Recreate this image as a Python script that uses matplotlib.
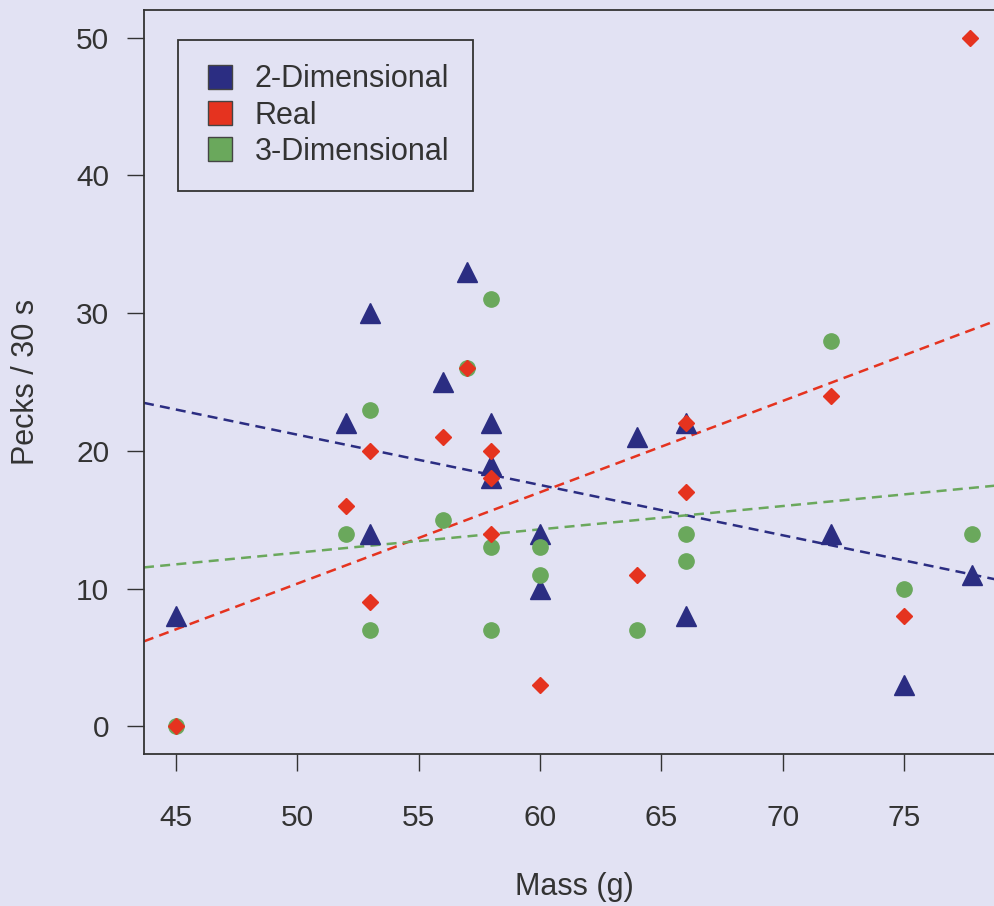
import numpy as np
import matplotlib
matplotlib.use("Agg")
import matplotlib.pyplot as plt
from matplotlib.lines import Line2D

plt.rcParams['font.family'] = ['Liberation Sans', 'DejaVu Sans']

# data
mass_2d = [45, 52, 53, 53, 56, 57, 58, 58, 58, 60, 60, 64, 66, 66, 72, 75, 77.8]
pecks_2d = [8, 22, 30, 14, 25, 33, 22, 19, 18, 14, 10, 21, 22, 8, 14, 3, 11]

mass_real = [45, 52, 53, 53, 56, 57, 58, 58, 58, 60, 64, 66, 66, 72, 75, 77.7]
pecks_real = [0, 16, 20, 9, 21, 26, 20, 18, 14, 3, 11, 22, 17, 24, 8, 50]

mass_3d = [45, 52, 53, 53, 56, 57, 58, 58, 58, 60, 60, 64, 66, 66, 72, 75, 77.8]
pecks_3d = [0, 14, 23, 7, 15, 26, 31, 13, 7, 13, 11, 7, 14, 12, 28, 10, 14]

labels = ["2-Dimensional", "Real", "3-Dimensional"]
col_2d = "#2b2d82"
col_real = "#e5331f"
col_3d = "#6aa85c"
bg = "#e2e2f3"
ink = "#333333"

fig = plt.figure(figsize=(9.94, 9.06), dpi=100, facecolor=bg)
ax = fig.add_axes([144 / 994, 152 / 906, 860 / 994, 744 / 906])
ax.set_facecolor(bg)

ax.set_xlim(43.69, 79.11)
ax.set_ylim(-2, 52)

# regression lines
xs = np.array(ax.get_xlim())
for m, p, c in [(mass_2d, pecks_2d, col_2d), (mass_real, pecks_real, col_real),
                (mass_3d, pecks_3d, col_3d)]:
    k, b = np.polyfit(m, p, 1)
    ax.plot(xs, k * xs + b, color=c, lw=1.8, ls=(0, (4, 2.5)), zorder=2)

ax.plot(mass_2d, pecks_2d, ls="none", marker="^", ms=14, color=col_2d, zorder=3)
ax.plot(mass_3d, pecks_3d, ls="none", marker="o", ms=11, color=col_3d, zorder=4)
ax.plot(mass_real, pecks_real, ls="none", marker="D", ms=8, color=col_real, zorder=5)

ax.set_xticks([45, 50, 55, 60, 65, 70, 75])
ax.set_yticks([0, 10, 20, 30, 40, 50])
ax.tick_params(axis="both", labelsize=21.5, length=12, width=1, color=ink, labelcolor=ink)
ax.tick_params(axis="x", pad=24)
ax.tick_params(axis="y", pad=13)
for s in ax.spines.values():
    s.set_color(ink)
    s.set_linewidth(1.3)

ax.set_xlabel("Mass (g)", fontsize=22, color=ink)
ax.set_ylabel("Pecks / 30 s", fontsize=22, color=ink)
ax.xaxis.set_label_coords(0.5, -0.158)
ax.yaxis.set_label_coords(-0.12, 0.5)

handles = [Line2D([], [], ls="none", marker="s", ms=17, markerfacecolor=c,
                  markeredgecolor="#444444", markeredgewidth=1)
           for c in (col_2d, col_real, col_3d)]
leg = ax.legend(handles, labels, loc="upper left", bbox_to_anchor=(34 / 860, 1 - 30 / 744),
                borderaxespad=0, fontsize=22, frameon=True, fancybox=False, framealpha=1,
                facecolor=bg, edgecolor=ink, labelspacing=0.2, handletextpad=0.55,
                borderpad=0.8, handlelength=1.15, labelcolor=ink)
leg.get_frame().set_linewidth(1.3)

fig.savefig("out.png", dpi=100, facecolor=bg)
